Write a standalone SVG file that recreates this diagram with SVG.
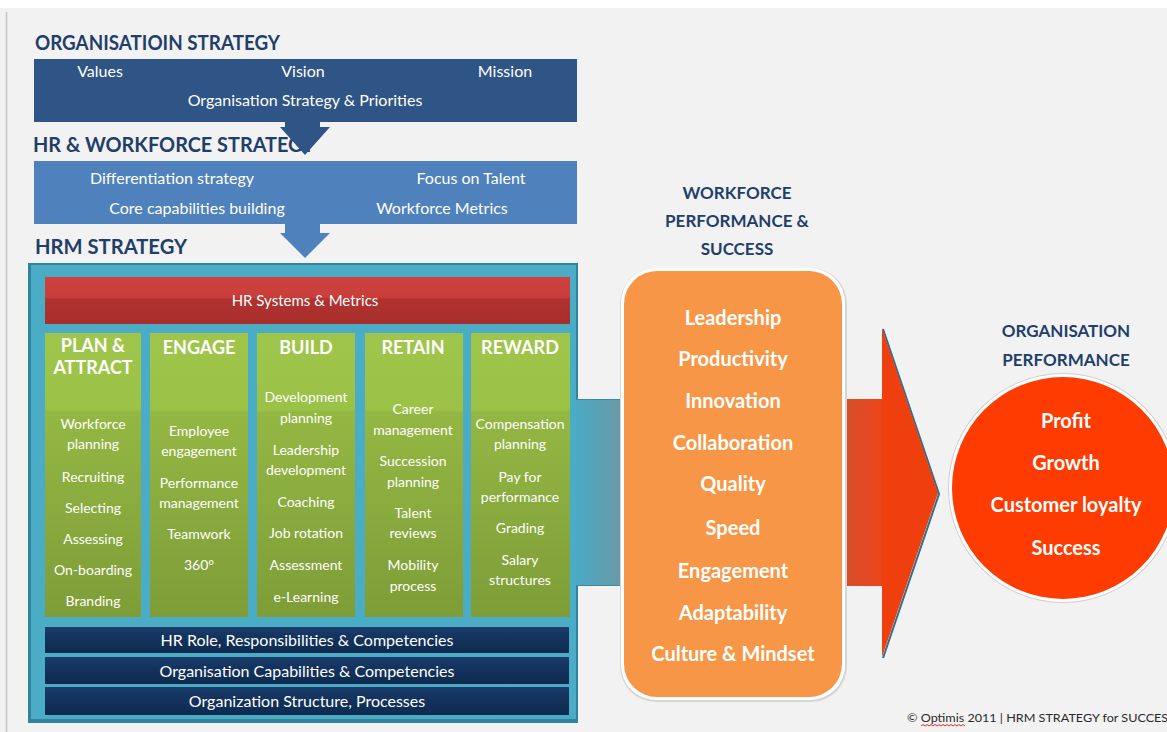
<svg xmlns="http://www.w3.org/2000/svg" width="1167" height="732" viewBox="0 0 1167 732">
<defs>
<style>
text{font-family:Lato,"Open Sans","Liberation Sans",sans-serif}
.title{font-size:20px;font-weight:700;fill:#1f3f6a}
.hdr{font-size:17px;font-weight:700;fill:#1f3f6a;text-anchor:middle}
.w{fill:#ffffff;text-anchor:middle}
.box16{font-size:16px}
.col{font-size:14px}
.colh{font-size:18px;font-weight:700}
.bar{font-size:16px}
.big{font-size:20px;font-weight:700}
</style>
<linearGradient id="gGreen" x1="0" y1="0" x2="0" y2="1">
<stop offset="0" stop-color="#9fc64b"/>
<stop offset="0.27" stop-color="#9bc147"/>
<stop offset="0.28" stop-color="#94b743"/>
<stop offset="1" stop-color="#7e9d38"/>
</linearGradient>
<linearGradient id="gRed" x1="0" y1="0" x2="0" y2="1">
<stop offset="0" stop-color="#d0413e"/>
<stop offset="0.45" stop-color="#c83d3a"/>
<stop offset="0.46" stop-color="#b0322f"/>
<stop offset="1" stop-color="#a82f2c"/>
</linearGradient>
<linearGradient id="gNavy" x1="0" y1="0" x2="0" y2="1">
<stop offset="0" stop-color="#1a3d6c"/>
<stop offset="0.4" stop-color="#14335e"/>
<stop offset="1" stop-color="#0e2a50"/>
</linearGradient>
<linearGradient id="gTeal" x1="0" y1="0" x2="1" y2="0">
<stop offset="0" stop-color="#4aaac5"/>
<stop offset="1" stop-color="#6b98a5"/>
</linearGradient>
<linearGradient id="gRedBand" x1="0" y1="0" x2="1" y2="0">
<stop offset="0" stop-color="#d4502e"/>
<stop offset="1" stop-color="#ec4419"/>
</linearGradient>
</defs>

<!-- background -->
<rect x="0" y="0" width="1167" height="732" fill="#ffffff"/>
<rect x="0" y="8" width="1167" height="724" fill="#f2f2f2"/>
<line x1="6.5" y1="12" x2="6.5" y2="732" stroke="#c4c4c4" stroke-width="1.5"/>

<!-- Organisation strategy -->
<g id="org-strategy">
<text class="title" x="35" y="50" textLength="245" lengthAdjust="spacingAndGlyphs">ORGANISATIOIN STRATEGY</text>
<rect x="34" y="59" width="543" height="63" fill="#2f5486"/>
<text class="w box16" x="100" y="77">Values</text>
<text class="w box16" x="303" y="77">Vision</text>
<text class="w box16" x="505" y="77">Mission</text>
<text class="w box16" x="305" y="106">Organisation Strategy &amp; Priorities</text>
</g>

<!-- HR & workforce strategy -->
<g id="hr-workforce-strategy">
<text class="title" x="33" y="152" textLength="282" lengthAdjust="spacingAndGlyphs">HR &amp; WORKFORCE STRATEGY</text>
<rect x="34" y="161" width="543" height="63" fill="#4f81bd"/>
<text class="w box16" x="172" y="184">Differentiation strategy</text>
<text class="w box16" x="471" y="184">Focus on Talent</text>
<text class="w box16" x="197" y="214">Core capabilities building</text>
<text class="w box16" x="442" y="214">Workforce Metrics</text>
</g>

<!-- HRM strategy -->
<g id="hrm-strategy">
<text class="title" x="35" y="254" textLength="152" lengthAdjust="spacingAndGlyphs">HRM STRATEGY</text>
<rect x="28" y="263" width="550" height="460" fill="#31849b"/>
<rect x="31" y="265" width="545" height="454" fill="#4bacc6"/>
<g id="hr-systems">
<rect x="45" y="277" width="525" height="47" fill="url(#gRed)"/>
<text class="w" x="305" y="306" font-size="15">HR Systems &amp; Metrics</text>
</g>
<g id="col-plan">
<rect x="45" y="333" width="96" height="284" fill="url(#gGreen)"/>
<text class="w colh" x="93" y="352">PLAN &amp;</text>
<text class="w colh" x="93" y="374">ATTRACT</text>
<text class="w col" x="93" y="429">Workforce</text>
<text class="w col" x="93" y="449">planning</text>
<text class="w col" x="93" y="482">Recruiting</text>
<text class="w col" x="93" y="513">Selecting</text>
<text class="w col" x="93" y="544">Assessing</text>
<text class="w col" x="93" y="575">On-boarding</text>
<text class="w col" x="93" y="606">Branding</text>
</g>
<g id="col-engage">
<rect x="150" y="333" width="98" height="284" fill="url(#gGreen)"/>
<text class="w colh" x="199" y="354">ENGAGE</text>
<text class="w col" x="199" y="436">Employee</text>
<text class="w col" x="199" y="456">engagement</text>
<text class="w col" x="199" y="488">Performance</text>
<text class="w col" x="199" y="508">management</text>
<text class="w col" x="199" y="539">Teamwork</text>
<text class="w col" x="199" y="570">360°</text>
</g>
<g id="col-build">
<rect x="257" y="333" width="98" height="284" fill="url(#gGreen)"/>
<text class="w colh" x="306" y="354">BUILD</text>
<text class="w col" x="306" y="402">Development</text>
<text class="w col" x="306" y="423">planning</text>
<text class="w col" x="306" y="455">Leadership</text>
<text class="w col" x="306" y="475">development</text>
<text class="w col" x="306" y="507">Coaching</text>
<text class="w col" x="306" y="538">Job rotation</text>
<text class="w col" x="306" y="570">Assessment</text>
<text class="w col" x="306" y="602">e-Learning</text>
</g>
<g id="col-retain">
<rect x="365" y="333" width="98" height="284" fill="url(#gGreen)"/>
<text class="w colh" x="413" y="354">RETAIN</text>
<text class="w col" x="413" y="414">Career</text>
<text class="w col" x="413" y="435">management</text>
<text class="w col" x="413" y="466">Succession</text>
<text class="w col" x="413" y="487">planning</text>
<text class="w col" x="413" y="518">Talent</text>
<text class="w col" x="413" y="538">reviews</text>
<text class="w col" x="413" y="570">Mobility</text>
<text class="w col" x="413" y="591">process</text>
</g>
<g id="col-reward">
<rect x="471" y="333" width="99" height="284" fill="url(#gGreen)"/>
<text class="w colh" x="520" y="354">REWARD</text>
<text class="w col" x="520" y="429">Compensation</text>
<text class="w col" x="520" y="449">planning</text>
<text class="w col" x="520" y="482">Pay for</text>
<text class="w col" x="520" y="502">performance</text>
<text class="w col" x="520" y="533">Grading</text>
<text class="w col" x="520" y="565">Salary</text>
<text class="w col" x="520" y="585">structures</text>
</g>
<g id="bar-role">
<rect x="45" y="627" width="524" height="26" fill="url(#gNavy)"/>
<text class="w bar" x="307" y="646">HR Role, Responsibilities &amp; Competencies</text>
</g>
<g id="bar-capabilities">
<rect x="45" y="657" width="524" height="27" fill="url(#gNavy)"/>
<text class="w bar" x="307" y="677">Organisation Capabilities &amp; Competencies</text>
</g>
<g id="bar-structure">
<rect x="45" y="687" width="524" height="28" fill="url(#gNavy)"/>
<text class="w bar" x="307" y="707">Organization Structure, Processes</text>
</g>
</g>

<!-- connectors -->
<g id="connectors">
<polygon points="285,122 320,122 320,127 330,127 305,155 280,127 285,127" fill="#2f5486"/>
<polygon points="285,224 320,224 320,233 330,233 305,258 280,233 285,233" fill="#4f81bd"/>
<rect x="576" y="399" width="47" height="187" fill="url(#gTeal)"/>
<line x1="576" y1="399.5" x2="623" y2="399.5" stroke="#3d8aa0" stroke-width="1"/>
<line x1="576" y1="585.5" x2="623" y2="585.5" stroke="#3d8aa0" stroke-width="1"/>
<rect x="843" y="399" width="40" height="187" fill="url(#gRedBand)"/>
<polyline points="883,329 939,494 883,658" fill="none" stroke="#2f6e8c" stroke-width="2"/>
<polygon points="882,328 938,493 882,657" fill="#f03f0e"/>
</g>

<!-- Workforce performance -->
<g id="workforce-performance">
<text class="hdr" x="737" y="199">WORKFORCE</text>
<text class="hdr" x="737" y="227">PERFORMANCE &amp;</text>
<text class="hdr" x="737" y="255">SUCCESS</text>
<rect x="620" y="268" width="227" height="434" rx="36" fill="#d6d6d6"/>
<rect x="621" y="268" width="224" height="432" rx="35" fill="#ffffff"/>
<rect x="624" y="271" width="218" height="426" rx="33" fill="#f79646"/>
<text class="w big" x="733" y="325">Leadership</text>
<text class="w big" x="733" y="366">Productivity</text>
<text class="w big" x="733" y="408">Innovation</text>
<text class="w big" x="733" y="450">Collaboration</text>
<text class="w big" x="733" y="491">Quality</text>
<text class="w big" x="733" y="535">Speed</text>
<text class="w big" x="733" y="578">Engagement</text>
<text class="w big" x="733" y="620">Adaptability</text>
<text class="w big" x="733" y="661">Culture &amp; Mindset</text>
</g>

<!-- Organisation performance -->
<g id="org-performance">
<text class="hdr" x="1066" y="337">ORGANISATION</text>
<text class="hdr" x="1066" y="366">PERFORMANCE</text>
<circle cx="1063" cy="488" r="115" fill="#d0d0d0"/>
<circle cx="1063" cy="488" r="114" fill="#ffffff"/>
<circle cx="1063" cy="488" r="111" fill="#fe3b00"/>
<text class="w big" x="1066" y="428">Profit</text>
<text class="w big" x="1066" y="470">Growth</text>
<text class="w big" x="1066" y="512">Customer loyalty</text>
<text class="w big" x="1066" y="555">Success</text>
</g>

<!-- footer -->
<g id="copyright">
<text x="907" y="722" font-size="11.5" fill="#2a2a2a" textLength="268" lengthAdjust="spacingAndGlyphs">© Optimis 2011 | HRM STRATEGY for SUCCESS</text>
<path d="M921,726 l2,-1.5 l2,1.5 l2,-1.5 l2,1.5 l2,-1.5 l2,1.5 l2,-1.5 l2,1.5 l2,-1.5 l2,1.5 l2,-1.5 l2,1.5 l2,-1.5 l2,1.5 l2,-1.5 l2,1.5 l2,-1.5 l2,1.5 l2,-1.5 l2,1.5 l2,-1.5 l2,1.5" fill="none" stroke="#e03020" stroke-width="1"/>
</g>
</svg>
